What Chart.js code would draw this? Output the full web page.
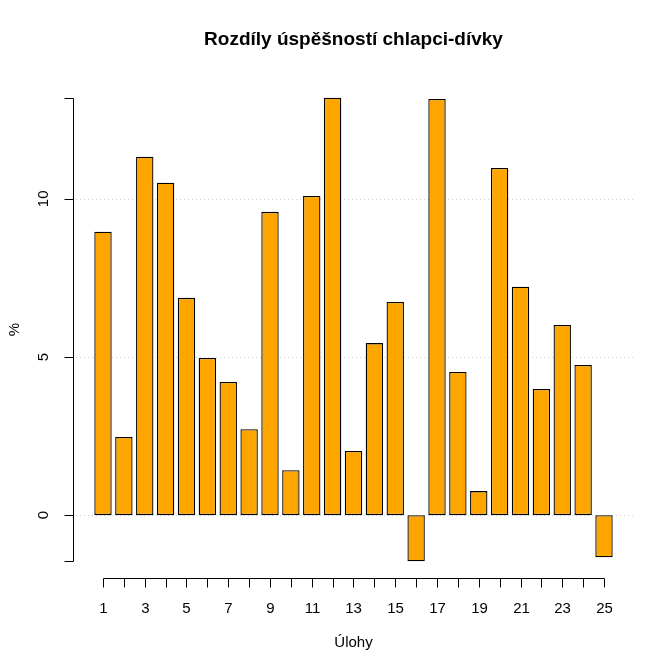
<!DOCTYPE html>
<html>
<head>
<meta charset="utf-8">
<script src="https://cdn.jsdelivr.net/npm/chart.js@4"></script>
<style>
    html, body { margin: 0; padding: 0; background: #fff; }
    canvas { display: block; }
</style>
</head>
<body>
<canvas id="bar_chart" width="671" height="670"></canvas>
<script>
// data
const taskLabels = ['1', '2', '3', '4', '5', '6', '7', '8', '9', '10', '11', '12', '13',
    '14', '15', '16', '17', '18', '19', '20', '21', '22', '23', '24', '25'];
const diffValues = [8.96, 2.47, 11.33, 10.51, 6.87, 4.97, 4.21, 2.72, 9.59, 1.42, 10.09, 13.2, 2.03,
    5.44, 6.74, -1.46, 13.16, 4.53, 0.76, 10.98, 7.22, 3.99, 6.01, 4.75, -1.33];
const yTickValues = [0, 5, 10];
const xTickLabels = ['1', '3', '5', '7', '9', '11', '13', '15', '17', '19', '21', '23', '25'];

const chartTitle = 'Rozdíly úspěšností chlapci-dívky';
const xTitle = 'Úlohy';
const yTitle = '%';

const fontFamily = '"Liberation Sans", Arial, sans-serif';

// R-like axes, grid and titles
const rAxesPlugin = {
    id: 'rAxes',
    beforeDatasetsDraw(chart) {
        const ctx = chart.ctx;
        const area = chart.chartArea;
        const y = chart.scales.y;
        ctx.save();
        ctx.strokeStyle = '#d3d3d3';
        ctx.lineWidth = 1;
        ctx.setLineDash([1, 3]);
        yTickValues.forEach(v => {
            const py = Math.round(y.getPixelForValue(v)) + 0.5;
            ctx.beginPath();
            ctx.moveTo(area.left + 3, py);
            ctx.lineTo(area.right, py);
            ctx.stroke();
        });
        ctx.restore();
    },
    afterDraw(chart) {
        const ctx = chart.ctx;
        const area = chart.chartArea;
        const x = chart.scales.x;
        const y = chart.scales.y;
        ctx.save();
        ctx.strokeStyle = '#000';
        ctx.fillStyle = '#000';
        ctx.lineWidth = 1;

        // y axis
        const ax = Math.round(area.left) + 0.5;
        const yMin = Math.min(...diffValues);
        const yMax = Math.max(...diffValues);
        ctx.beginPath();
        ctx.moveTo(ax, Math.round(y.getPixelForValue(yMin)) + 0.5);
        ctx.lineTo(ax, Math.round(y.getPixelForValue(yMax)) + 0.5);
        ctx.stroke();
        [yMin, ...yTickValues, yMax].forEach(v => {
            const py = Math.round(y.getPixelForValue(v)) + 0.5;
            ctx.beginPath();
            ctx.moveTo(ax, py);
            ctx.lineTo(ax - 9, py);
            ctx.stroke();
        });
        ctx.font = '15px ' + fontFamily;
        ctx.textAlign = 'center';
        ctx.textBaseline = 'middle';
        yTickValues.forEach(v => {
            const py = y.getPixelForValue(v);
            ctx.save();
            ctx.translate(ax - 30, py);
            ctx.rotate(-Math.PI / 2);
            ctx.fillText(String(v), 0, 0);
            ctx.restore();
        });

        // x axis
        const ay = Math.round(area.bottom) - 1.5;
        ctx.beginPath();
        ctx.moveTo(Math.round(x.getPixelForValue(1)) + 0.5, ay);
        ctx.lineTo(Math.round(x.getPixelForValue(taskLabels.length)) + 0.5, ay);
        ctx.stroke();
        taskLabels.forEach((lab, i) => {
            const px = Math.round(x.getPixelForValue(i + 1)) + 0.5;
            ctx.beginPath();
            ctx.moveTo(px, ay);
            ctx.lineTo(px, ay + 9);
            ctx.stroke();
            if (xTickLabels.includes(lab)) {
                ctx.fillText(lab, px, ay + 30);
            }
        });

        // axis titles
        const midX = (area.left + area.right) / 2;
        ctx.fillText(xTitle, midX, 643);
        ctx.save();
        ctx.translate(15, (area.top + area.bottom) / 2);
        ctx.rotate(-Math.PI / 2);
        ctx.fillText(yTitle, 0, 0);
        ctx.restore();

        // main title
        ctx.font = 'bold 19px ' + fontFamily;
        ctx.fillText(chartTitle, midX, 40);
        ctx.restore();
    }
};

const ctx = document.getElementById('bar_chart').getContext('2d');
new Chart(ctx, {
    type: 'bar',
    data: {
        datasets: [{
            data: diffValues.map((v, i) => ({ x: i + 1, y: v })),
            backgroundColor: '#FFA500',
            borderColor: '#000000',
            borderWidth: 1.3,
            borderSkipped: false,
            barPercentage: 0.833,
            categoryPercentage: 1
        }]
    },
    options: {
        responsive: false,
        animation: false,
        devicePixelRatio: 1,
        layout: {
            padding: { left: 73, right: 37, top: 79, bottom: 90 }
        },
        scales: {
            x: {
                type: 'linear',
                display: false,
                offset: false,
                min: -0.437,
                max: 26.437
            },
            y: {
                display: false,
                min: -2.05,
                max: 13.79
            }
        },
        plugins: {
            legend: { display: false },
            tooltip: { enabled: false }
        }
    },
    plugins: [rAxesPlugin]
});
</script>
</body>
</html>
